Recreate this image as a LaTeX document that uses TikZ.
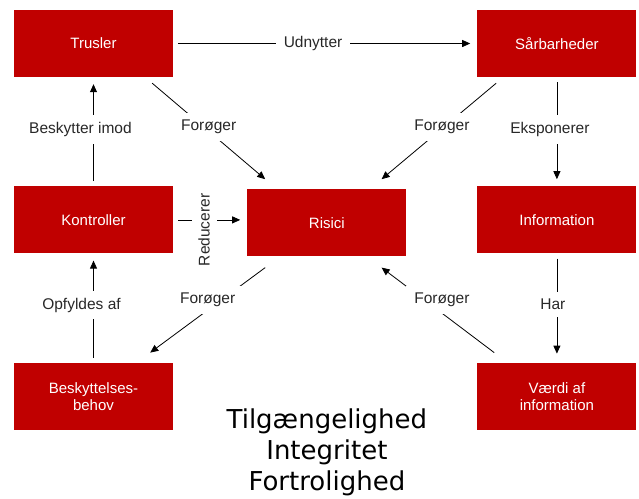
\documentclass[tikz,border=0pt]{standalone}
\usepackage{fontspec}
\setmainfont{Liberation Sans}
\newfontfamily\ciafont{DejaVu Sans}
\definecolor{riskred}{RGB}{192,0,0}
\definecolor{lblgray}{RGB}{40,40,40}
\usetikzlibrary{arrows.meta, positioning}

\begin{document}
\begin{tikzpicture}[x=1pt, y=-1pt,
  font=\fontsize{15.5}{17}\selectfont, node distance=109pt and 304pt,
  b/.style={rectangle, fill=riskred, text=white, align=center, inner sep=0pt,
            minimum width=159pt, minimum height=67pt, font=\fontsize{15}{17}\selectfont},
  lb/.style={fill=white, text=lblgray, inner xsep=8pt, inner ysep=7pt},
  ar/.style={-{Triangle[length=8pt,width=7pt]}, line width=0.8pt,
             shorten <=5pt, shorten >=7pt},
  dg/.style={ar, shorten <=0pt, shorten >=0pt}]
\useasboundingbox (0,0) rectangle (639,498);
\node[b] (trus) at (93.5,43.5) {Trusler};
\node[b, right=of trus] (saar) {Sårbarheder};
\node[b, below=of trus] (kont) {Kontroller};
\node[b, below=of kont] (behov) {Beskyttelses-\\behov};
\node[b, below=of saar] (info) {Information};
\node[b, below=of info] (vaerdi) {Værdi af\\information};
\node[b, right=74pt of kont, yshift=-3pt] (risici) {Risici};
\node[below=152pt of risici, inner sep=0pt, align=center,
      font=\ciafont\fontsize{26}{31}\selectfont] (cia)
  {Tilgængelighed\\Integritet\\Fortrolighed};
% top row and sides
\draw[ar] (trus) -- node[lb, pos=0.46]{Udnytter} (saar);
\draw[ar] (kont) -- node[lb, xshift=-13pt, yshift=2pt]{Beskytter imod} (trus);
\draw[ar] (saar) -- node[lb, xshift=-7pt, yshift=2pt]{Eksponerer} (info);
\draw[ar] (behov) -- node[lb, xshift=-12pt, yshift=3pt]{Opfyldes af} (kont);
\draw[ar, shorten >=9pt] (info) -- node[lb, xshift=-4pt, yshift=4pt]{Har} (vaerdi);
\draw[ar] (kont) -- node[lb, rotate=90, xshift=-10pt, yshift=6pt]{Reducerer} (kont -| risici.west);
% diagonals into/out of Risici
\draw[dg] ([xshift=-21pt, yshift=-6pt]trus.south east)
  -- node[lb, yshift=4pt]{Forøger} ([xshift=18pt, yshift=10pt]risici.north west);
\draw[dg] ([xshift=19pt, yshift=-6pt]saar.south west)
  -- node[lb, yshift=4pt, xshift=3pt]{Forøger} ([xshift=-25pt, yshift=10pt]risici.north east);
\draw[dg] ([xshift=18pt, yshift=-11pt]risici.south west)
  -- node[lb, yshift=10pt]{Forøger} ([xshift=-23pt, yshift=10pt]behov.north east);
\draw[dg] ([xshift=17pt, yshift=10pt]vaerdi.north west)
  -- node[lb, yshift=10pt, xshift=4pt]{Forøger} ([xshift=-25pt, yshift=-11pt]risici.south east);
\end{tikzpicture}
\end{document}
